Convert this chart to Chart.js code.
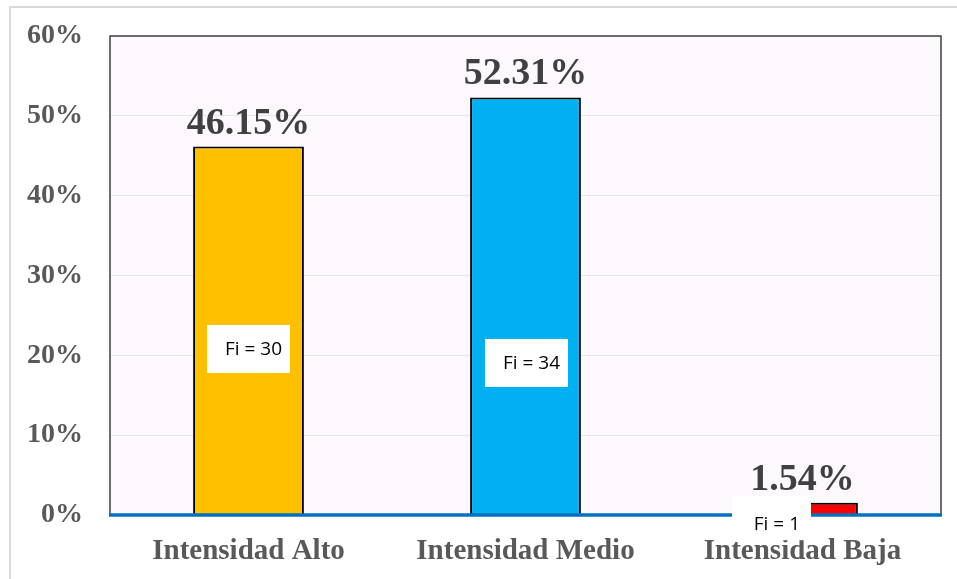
<!DOCTYPE html>
<html>
<head>
<meta charset="utf-8">
<script src="https://cdn.jsdelivr.net/npm/chart.js@4.4.1/dist/chart.umd.min.js"></script>
<style>
  body { margin: 0; background: #fff; }
  canvas { display: block; }
</style>
</head>
<body>
<canvas id="chart" width="957" height="579"></canvas>
<script>
// datos
const categorias = ['Intensidad Alto', 'Intensidad Medio', 'Intensidad Baja'];
const porcentajes = [46.15, 52.31, 1.54];
const frecuencias = [30, 34, 1];
const colores = ['#FFC000', '#00B0F0', '#FF0000'];

// fondo, marco y bordes del area de trazado
const marcoPlugin = {
    id: 'marco',
    beforeDraw(chart) {
        const { ctx, chartArea: a } = chart;
        ctx.save();
        ctx.strokeStyle = '#D9D9D9';
        ctx.lineWidth = 2;
        ctx.beginPath();
        ctx.moveTo(10, chart.height);
        ctx.lineTo(10, 7);
        ctx.lineTo(chart.width, 7);
        ctx.stroke();
        ctx.fillStyle = '#FDF8FD';
        ctx.fillRect(a.left, a.top, a.right - a.left, a.bottom - a.top);
        ctx.restore();
    },
    afterDatasetsDraw(chart) {
        const { ctx, chartArea: a } = chart;
        ctx.save();
        ctx.strokeStyle = '#404040';
        ctx.lineWidth = 1.5;
        ctx.beginPath();
        ctx.moveTo(a.left, a.bottom);
        ctx.lineTo(a.left, a.top);
        ctx.lineTo(a.right, a.top);
        ctx.lineTo(a.right, a.bottom);
        ctx.stroke();
        ctx.strokeStyle = '#0070C0';
        ctx.lineWidth = 3.5;
        ctx.beginPath();
        ctx.moveTo(a.left - 1, a.bottom);
        ctx.lineTo(a.right + 1, a.bottom);
        ctx.stroke();
        ctx.restore();
    }
};

// etiquetas de porcentaje y cajas Fi
const etiquetasPlugin = {
    id: 'etiquetas',
    afterDatasetsDraw(chart, args, opts) {
        const { ctx } = chart;
        const y = chart.scales.y;
        const meta = chart.getDatasetMeta(0);
        ctx.save();
        meta.data.forEach((bar, i) => {
            ctx.fillStyle = '#404040';
            ctx.font = 'bold 38px "Liberation Serif", "Times New Roman", serif';
            ctx.textAlign = 'center';
            ctx.textBaseline = 'alphabetic';
            ctx.fillText(porcentajes[i].toFixed(2) + '%', bar.x, bar.y - 13);

            const cx = bar.x + opts.dx[i];
            const cy = y.getPixelForValue(opts.at[i]);
            const w = opts.w[i], h = opts.h[i];
            ctx.fillStyle = '#FFFFFF';
            ctx.fillRect(cx - w / 2, cy - h / 2, w, h);
            ctx.fillStyle = '#000000';
            ctx.font = '19px "Open Sans", sans-serif';
            ctx.textAlign = 'right';
            ctx.textBaseline = 'middle';
            ctx.fillText('Fi = ' + frecuencias[i], cx + w / 2 - 8 + opts.tx[i], cy + opts.ty[i]);
        });
        ctx.restore();
    }
};

new Chart(document.getElementById('chart'), {
    type: 'bar',
    data: {
        labels: categorias,
        datasets: [{
            data: porcentajes,
            backgroundColor: colores,
            borderColor: '#000000',
            borderWidth: 2,
            borderSkipped: 'bottom',
            barPercentage: 0.4,
            categoryPercentage: 1.0
        }]
    },
    options: {
        responsive: false,
        animation: false,
        devicePixelRatio: 1,
        layout: { padding: { top: 36, right: 16, left: 0, bottom: 0 } },
        plugins: {
            legend: { display: false },
            tooltip: { enabled: false },
            etiquetas: {
                dx: [0, 1, -31],
                at: [20.8, 19.05, -0.4],
                w: [83, 83, 79],
                h: [48, 48, 44],
                tx: [0, 0, -3],
                ty: [1, 1, 6]
            }
        },
        scales: {
            x: {
                grid: { display: false, drawTicks: false },
                border: { display: false },
                ticks: {
                    color: '#595959',
                    padding: 19,
                    font: { family: '"Liberation Serif", "Times New Roman", serif', size: 29, weight: 'bold' }
                },
                afterFit: s => { s.height = 64; s.paddingLeft = 0; s.paddingRight = 0; }
            },
            y: {
                min: 0,
                max: 60,
                grid: { color: '#E6E6E6', lineWidth: 1, drawTicks: false },
                border: { display: false },
                ticks: {
                    stepSize: 10,
                    color: '#595959',
                    padding: 27,
                    callback: v => v + '%',
                    font: { family: '"Liberation Serif", "Times New Roman", serif', size: 28, weight: 'bold' }
                },
                afterFit: s => { s.width = 110; s.paddingTop = 0; s.paddingBottom = 0; }
            }
        }
    },
    plugins: [marcoPlugin, etiquetasPlugin]
});
</script>
</body>
</html>
